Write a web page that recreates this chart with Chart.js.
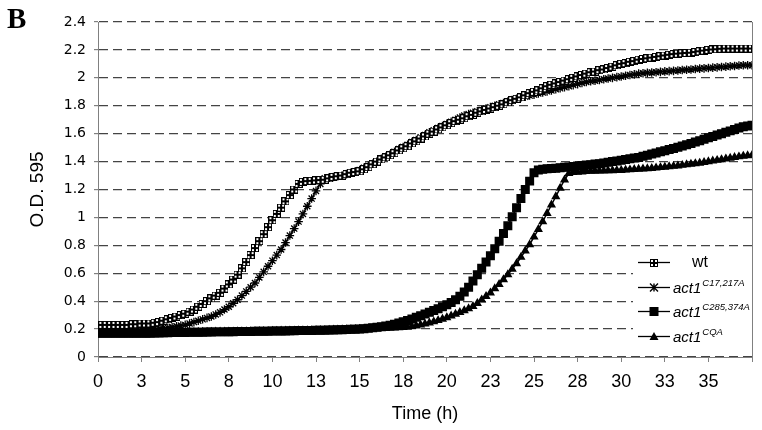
<!DOCTYPE html>
<html>
<head>
<meta charset="utf-8">
<script src="https://cdn.jsdelivr.net/npm/chart.js@4.4.0/dist/chart.umd.min.js"></script>
<style>
  html, body { margin: 0; padding: 0; background: #fff; }
  #wrap { width: 762px; height: 430px; }
</style>
</head>
<body>
<div id="wrap"><canvas id="growthChart" width="762" height="430"></canvas></div>
<script>
// sampling times (h), every 15 min
const times = [
  0, 0.25, 0.5, 0.75, 1, 1.25, 1.5, 1.75, 2, 2.25,
  2.5, 2.75, 3, 3.25, 3.5, 3.75, 4, 4.25, 4.5, 4.75,
  5, 5.25, 5.5, 5.75, 6, 6.25, 6.5, 6.75, 7, 7.25,
  7.5, 7.75, 8, 8.25, 8.5, 8.75, 9, 9.25, 9.5, 9.75,
  10, 10.25, 10.5, 10.75, 11, 11.25, 11.5, 11.75, 12, 12.25,
  12.5, 12.75, 13, 13.25, 13.5, 13.75, 14, 14.25, 14.5, 14.75,
  15, 15.25, 15.5, 15.75, 16, 16.25, 16.5, 16.75, 17, 17.25,
  17.5, 17.75, 18, 18.25, 18.5, 18.75, 19, 19.25, 19.5, 19.75,
  20, 20.25, 20.5, 20.75, 21, 21.25, 21.5, 21.75, 22, 22.25,
  22.5, 22.75, 23, 23.25, 23.5, 23.75, 24, 24.25, 24.5, 24.75,
  25, 25.25, 25.5, 25.75, 26, 26.25, 26.5, 26.75, 27, 27.25,
  27.5, 27.75, 28, 28.25, 28.5, 28.75, 29, 29.25, 29.5, 29.75,
  30, 30.25, 30.5, 30.75, 31, 31.25, 31.5, 31.75, 32, 32.25,
  32.5, 32.75, 33, 33.25, 33.5, 33.75, 34, 34.25, 34.5, 34.75,
  35, 35.25, 35.5, 35.75, 36, 36.25, 36.5, 36.75, 37, 37.25,
  37.5
];

const wt = [
  0.23, 0.23, 0.23, 0.23, 0.23, 0.23, 0.23, 0.23, 0.235, 0.235,
  0.24, 0.24, 0.24, 0.245, 0.25, 0.26, 0.27, 0.28, 0.29, 0.30,
  0.31, 0.325, 0.34, 0.36, 0.38, 0.40, 0.42, 0.44, 0.46, 0.49,
  0.52, 0.555, 0.59, 0.635, 0.68, 0.73, 0.78, 0.83, 0.88, 0.93,
  0.98, 1.025, 1.07, 1.115, 1.16, 1.20, 1.24, 1.255, 1.26, 1.262,
  1.265, 1.268, 1.27, 1.28, 1.29, 1.295, 1.30, 1.31, 1.32, 1.325,
  1.33, 1.345, 1.36, 1.38, 1.40, 1.415, 1.43, 1.445, 1.46, 1.48,
  1.495, 1.51, 1.53, 1.545, 1.565, 1.58, 1.60, 1.615, 1.63, 1.645,
  1.66, 1.675, 1.69, 1.70, 1.71, 1.725, 1.735, 1.75, 1.76, 1.77,
  1.78, 1.79, 1.80, 1.81, 1.825, 1.84, 1.85, 1.86, 1.875, 1.89,
  1.90, 1.91, 1.925, 1.94, 1.95, 1.96, 1.97, 1.98, 1.99, 2.00,
  2.01, 2.02, 2.03, 2.04, 2.045, 2.055, 2.06, 2.07, 2.08, 2.09,
  2.10, 2.105, 2.115, 2.12, 2.13, 2.135, 2.14, 2.145, 2.15, 2.155,
  2.16, 2.165, 2.17, 2.173, 2.176, 2.178, 2.18, 2.185, 2.19, 2.195,
  2.20, 2.203, 2.205, 2.208, 2.21, 2.21, 2.21, 2.21, 2.21, 2.21,
  2.21
];

const c17 = [
  0.19, 0.19, 0.19, 0.19, 0.19, 0.19, 0.195, 0.195, 0.195, 0.195,
  0.20, 0.20, 0.20, 0.205, 0.205, 0.21, 0.21, 0.215, 0.22, 0.225,
  0.23, 0.24, 0.25, 0.26, 0.27, 0.28, 0.29, 0.305, 0.32, 0.34,
  0.36, 0.385, 0.41, 0.44, 0.47, 0.50, 0.53, 0.57, 0.61, 0.65,
  0.69, 0.73, 0.77, 0.82, 0.87, 0.92, 0.97, 1.025, 1.08, 1.135,
  1.19, 1.24, 1.28, 1.285, 1.29, 1.295, 1.30, 1.31, 1.32, 1.33,
  1.34, 1.355, 1.37, 1.385, 1.40, 1.42, 1.435, 1.45, 1.47, 1.49,
  1.505, 1.52, 1.54, 1.555, 1.575, 1.59, 1.61, 1.625, 1.64, 1.655,
  1.67, 1.685, 1.70, 1.715, 1.73, 1.74, 1.75, 1.76, 1.77, 1.78,
  1.79, 1.80, 1.81, 1.82, 1.83, 1.84, 1.85, 1.86, 1.865, 1.873,
  1.88, 1.888, 1.895, 1.903, 1.91, 1.918, 1.925, 1.933, 1.94, 1.948,
  1.955, 1.963, 1.97, 1.975, 1.98, 1.985, 1.99, 1.995, 2.00, 2.005,
  2.01, 2.015, 2.02, 2.025, 2.03, 2.033, 2.036, 2.038, 2.04, 2.043,
  2.046, 2.048, 2.05, 2.053, 2.056, 2.058, 2.06, 2.063, 2.066, 2.068,
  2.07, 2.073, 2.075, 2.078, 2.08, 2.083, 2.085, 2.088, 2.09, 2.09,
  2.09
];

const c285 = [
  0.17, 0.17, 0.17, 0.17, 0.17, 0.17, 0.17, 0.17, 0.17, 0.17,
  0.17, 0.17, 0.17, 0.172, 0.172, 0.174, 0.174, 0.175, 0.175, 0.176,
  0.176, 0.177, 0.177, 0.178, 0.178, 0.179, 0.179, 0.18, 0.18, 0.18,
  0.181, 0.181, 0.182, 0.182, 0.183, 0.183, 0.184, 0.184, 0.185, 0.185,
  0.186, 0.186, 0.187, 0.187, 0.188, 0.188, 0.189, 0.189, 0.19, 0.19,
  0.191, 0.191, 0.192, 0.193, 0.194, 0.195, 0.196, 0.197, 0.198, 0.199,
  0.20, 0.203, 0.206, 0.209, 0.213, 0.217, 0.222, 0.228, 0.235, 0.243,
  0.252, 0.262, 0.273, 0.284, 0.296, 0.308, 0.32, 0.333, 0.346, 0.36,
  0.375, 0.39, 0.41, 0.435, 0.465, 0.50, 0.545, 0.59, 0.635, 0.68,
  0.725, 0.775, 0.83, 0.885, 0.94, 1.005, 1.07, 1.135, 1.20, 1.26,
  1.32, 1.34, 1.345, 1.348, 1.35, 1.353, 1.356, 1.36, 1.362, 1.365,
  1.368, 1.372, 1.375, 1.378, 1.382, 1.385, 1.39, 1.395, 1.40, 1.405,
  1.41, 1.415, 1.42, 1.425, 1.43, 1.438, 1.446, 1.454, 1.462, 1.47,
  1.478, 1.486, 1.494, 1.503, 1.512, 1.521, 1.53, 1.54, 1.55, 1.56,
  1.57, 1.58, 1.59, 1.60, 1.61, 1.62, 1.63, 1.64, 1.65, 1.655,
  1.66
];

const cqa = [
  0.17, 0.17, 0.17, 0.17, 0.17, 0.17, 0.17, 0.17, 0.17, 0.17,
  0.17, 0.17, 0.17, 0.172, 0.172, 0.174, 0.174, 0.175, 0.175, 0.176,
  0.176, 0.177, 0.177, 0.178, 0.178, 0.179, 0.179, 0.18, 0.18, 0.18,
  0.181, 0.181, 0.182, 0.182, 0.183, 0.183, 0.184, 0.184, 0.185, 0.185,
  0.186, 0.186, 0.187, 0.187, 0.188, 0.188, 0.189, 0.189, 0.19, 0.19,
  0.191, 0.191, 0.192, 0.193, 0.194, 0.195, 0.196, 0.197, 0.198, 0.199,
  0.20, 0.201, 0.202, 0.203, 0.204, 0.205, 0.206, 0.207, 0.208, 0.21,
  0.212, 0.215, 0.219, 0.224, 0.23, 0.237, 0.245, 0.253, 0.262, 0.272,
  0.283, 0.295, 0.307, 0.32, 0.333, 0.347, 0.363, 0.385, 0.41, 0.435,
  0.46, 0.49, 0.52, 0.555, 0.59, 0.63, 0.67, 0.715, 0.76, 0.805,
  0.86, 0.915, 0.97, 1.03, 1.09, 1.15, 1.21, 1.27, 1.315, 1.322,
  1.325, 1.327, 1.33, 1.331, 1.332, 1.333, 1.334, 1.335, 1.336, 1.337,
  1.338, 1.34, 1.342, 1.344, 1.346, 1.348, 1.35, 1.352, 1.355, 1.358,
  1.361, 1.364, 1.367, 1.37, 1.374, 1.378, 1.382, 1.386, 1.39, 1.395,
  1.40, 1.405, 1.41, 1.415, 1.42, 1.425, 1.43, 1.435, 1.44, 1.443,
  1.445
];

const seriesNames = ['wt', 'act1', 'act1', 'act1'];
const seriesSup = ['', 'C17,217A', 'C285,374A', 'CQA'];

// little square with four white holes, the wt marker
function windowMarker() {
  const c = document.createElement('canvas');
  c.width = 8; c.height = 8;
  const g = c.getContext('2d');
  g.fillStyle = '#000';
  g.fillRect(0, 0, 8, 8);
  g.fillStyle = '#fff';
  g.fillRect(1, 1, 2, 2); g.fillRect(5, 1, 2, 2);
  g.fillRect(1, 5, 2, 2); g.fillRect(5, 5, 2, 2);
  return c;
}
const wtMarker = windowMarker();

function pts(vals) {
  return vals.map((v, i) => ({ x: times[i], y: v }));
}

function drawMark(ctx, kind, x, y) {
  ctx.save();
  ctx.fillStyle = '#000';
  ctx.strokeStyle = '#000';
  ctx.lineWidth = 1.4;
  if (kind === 0) {
    ctx.drawImage(wtMarker, Math.round(x - 4), Math.round(y - 4));
  } else if (kind === 1) {
    ctx.beginPath();
    ctx.moveTo(x - 4, y - 4); ctx.lineTo(x + 4, y + 4);
    ctx.moveTo(x - 4, y + 4); ctx.lineTo(x + 4, y - 4);
    ctx.moveTo(x, y - 4); ctx.lineTo(x, y + 4);
    ctx.stroke();
  } else if (kind === 2) {
    ctx.fillRect(x - 4.5, y - 4.5, 9, 9);
  } else {
    ctx.beginPath();
    ctx.moveTo(x, y - 4.5); ctx.lineTo(x + 4.5, y + 3.5); ctx.lineTo(x - 4.5, y + 3.5);
    ctx.closePath(); ctx.fill();
  }
  ctx.restore();
}

const decor = {
  id: 'decor',
  afterDraw(chart) {
    const ctx = chart.ctx, a = chart.chartArea;
    ctx.save();
    // right frame line
    ctx.strokeStyle = '#808080';
    ctx.lineWidth = 1;
    ctx.beginPath();
    ctx.moveTo(a.right + 0.5, a.top);
    ctx.lineTo(a.right + 0.5, a.bottom);
    ctx.stroke();

    // panel letter
    ctx.fillStyle = '#000';
    ctx.font = 'bold 29px "Liberation Serif", serif';
    ctx.textBaseline = 'alphabetic';
    ctx.fillText('B', 7, 28);

    // legend box
    ctx.fillStyle = '#fff';
    ctx.fillRect(633, 249, a.right - 633, 100);
    const rows = [262, 287, 311, 336];
    for (let i = 0; i < 4; i++) {
      const y = rows[i];
      ctx.strokeStyle = '#000';
      ctx.lineWidth = 1.3;
      ctx.beginPath();
      ctx.moveTo(638, y + 0.5); ctx.lineTo(670, y + 0.5);
      ctx.stroke();
      drawMark(ctx, i, 654, y + 0.5);
      ctx.fillStyle = '#000';
      if (i === 0) {
        ctx.font = '16px "Liberation Sans", Arial, sans-serif';
        ctx.fillText(seriesNames[i], 692, y + 5);
      } else {
        ctx.font = 'italic 15px "Liberation Sans", Arial, sans-serif';
        ctx.fillText(seriesNames[i], 673, y + 6);
        const w = ctx.measureText(seriesNames[i]).width;
        ctx.font = 'italic 9.5px "Liberation Sans", Arial, sans-serif';
        ctx.fillText(seriesSup[i], 673 + w + 1, y - 1);
      }
    }
    ctx.restore();
  }
};

const ctx = document.getElementById('growthChart').getContext('2d');
new Chart(ctx, {
  type: 'line',
  data: {
    datasets: [
      {
        label: 'wt',
        data: pts(wt),
        borderColor: '#000',
        borderWidth: 1.5,
        pointStyle: wtMarker,
        pointRadius: 4,
        fill: false
      },
      {
        label: 'act1 C17,217A',
        data: pts(c17),
        borderColor: '#000',
        borderWidth: 1.5,
        pointStyle: 'star',
        pointRadius: 4.3,
        pointBorderColor: '#000',
        pointBorderWidth: 1.3,
        fill: false
      },
      {
        label: 'act1 C285,374A',
        data: pts(c285),
        borderColor: '#000',
        borderWidth: 1.5,
        pointStyle: 'rect',
        pointRadius: 5.3,
        pointBackgroundColor: '#000',
        pointBorderColor: '#000',
        fill: false
      },
      {
        label: 'act1 CQA',
        data: pts(cqa),
        borderColor: '#000',
        borderWidth: 1.5,
        pointStyle: 'triangle',
        pointRadius: 3.8,
        pointBackgroundColor: '#000',
        pointBorderColor: '#000',
        fill: false
      }
    ]
  },
  options: {
    responsive: false,
    animation: false,
    layout: { padding: { left: 16, right: 10, top: 22, bottom: 0 } },
    plugins: {
      legend: { display: false },
      tooltip: { enabled: false }
    },
    scales: {
      x: {
        type: 'linear',
        min: 0,
        max: 37.5,
        afterFit: s => { s.height = 73; },
        ticks: {
          stepSize: 2.5,
          autoSkip: false,
          maxRotation: 0,
          padding: 9,
          color: '#000',
          font: { family: '"Liberation Sans Narrow", "Liberation Sans", Arial, sans-serif', size: 18 },
          callback: v => (v > 36 ? '' : String(Math.round(v)))
        },
        grid: {
          drawOnChartArea: false,
          drawTicks: true,
          tickLength: 5,
          tickColor: '#808080'
        },
        border: { color: '#808080', width: 1 },
        title: {
          display: true,
          text: 'Time (h)',
          color: '#000',
          font: { family: '"Liberation Sans", Arial, sans-serif', size: 18 },
          padding: { top: 0, bottom: 5 }
        }
      },
      y: {
        min: 0,
        max: 2.4,
        afterFit: s => { s.width = 82; },
        ticks: {
          stepSize: 0.2,
          padding: 8,
          color: '#000',
          font: { family: '"DejaVu Sans", Verdana, sans-serif', size: 14 },
          callback: v => String(+v.toFixed(1))
        },
        grid: {
          color: '#444',
          lineWidth: 1.2,
          tickLength: 4,
          tickColor: '#808080',
          tickBorderDash: []
        },
        border: { color: '#808080', width: 1, dash: [9, 5] },
        title: {
          display: true,
          text: 'O.D. 595',
          color: '#000',
          font: { family: '"Liberation Sans", Arial, sans-serif', size: 19 },
          padding: { top: 10, bottom: 0 }
        }
      }
    }
  },
  plugins: [decor]
});
</script>
</body>
</html>
